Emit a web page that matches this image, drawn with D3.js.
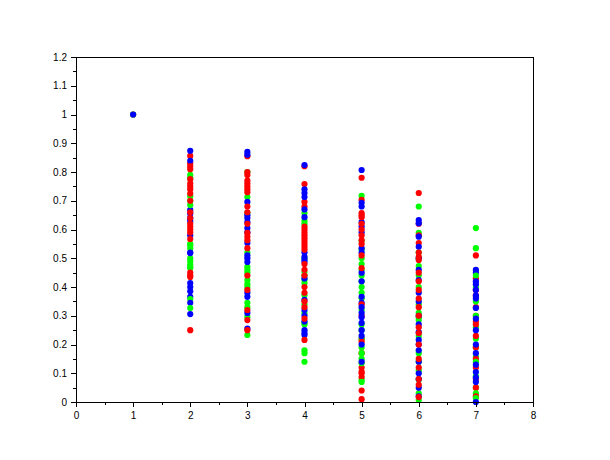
<!DOCTYPE html>
<html><head><meta charset="utf-8">
<script src="https://cdn.jsdelivr.net/npm/d3@7"></script>
<style>body{margin:0;background:#fff}svg{display:block}</style>
</head><body>
<script>
const categories = [1, 2, 3, 4, 5, 6, 7];
const xTicks = [0, 1, 2, 3, 4, 5, 6, 7, 8];
const yTicks = [0, 0.1, 0.2, 0.3, 0.4, 0.5, 0.6, 0.7, 0.8, 0.9, 1, 1.1, 1.2];
const yTickLabels = ["0","0.1","0.2","0.3","0.4","0.5","0.6","0.7","0.8","0.9","1","1.1","1.2"];

const redValues = [
  [1.0],
  [0.856,0.83,0.82,0.81,0.775,0.76,0.75,0.74,0.725,0.70,0.66,0.64,0.62,0.61,0.60,0.59,0.567,0.45,0.44,0.435,0.25],
  [0.855,0.80,0.79,0.77,0.76,0.75,0.74,0.73,0.68,0.66,0.62,0.588,0.575,0.563,0.535,0.44,0.39,0.32,0.285,0.25],
  [0.82,0.758,0.696,0.68,0.61,0.60,0.59,0.58,0.57,0.56,0.55,0.54,0.53,0.48,0.46,0.44,0.40,0.38,0.35,0.33,0.29,0.216],
  [0.78,0.703,0.657,0.65,0.643,0.62,0.60,0.58,0.563,0.55,0.51,0.466,0.34,0.30,0.22,0.21,0.17,0.12,0.105,0.10,0.087,0.04,0.01],
  [0.727,0.62,0.58,0.553,0.52,0.505,0.494,0.45,0.42,0.39,0.36,0.33,0.30,0.26,0.24,0.20,0.15,0.12,0.08,0.06,0.017],
  [0.51,0.43,0.39,0.37,0.33,0.30,0.28,0.27,0.23,0.19,0.15,0.12,0.08,0.05,0.02]
];
const greenValues = [
  [1.0],
  [0.79,0.78,0.716,0.70,0.685,0.55,0.546,0.535,0.50,0.49,0.478,0.47,0.466,0.358,0.327],
  [0.80,0.713,0.657,0.52,0.47,0.46,0.45,0.424,0.41,0.40,0.345,0.33,0.296,0.233],
  [0.657,0.63,0.62,0.50,0.452,0.44,0.425,0.414,0.372,0.34,0.31,0.275,0.27,0.18,0.17,0.14],
  [0.717,0.56,0.53,0.50,0.48,0.46,0.44,0.42,0.40,0.38,0.36,0.32,0.27,0.25,0.22,0.19,0.17,0.15,0.135,0.077,0.07],
  [0.68,0.588,0.52,0.50,0.473,0.44,0.40,0.34,0.31,0.295,0.285,0.23,0.17,0.14,0.11,0.077,0.03,0.007],
  [0.605,0.535,0.44,0.40,0.35,0.30,0.26,0.22,0.19,0.157,0.14,0.09,0.05,0.03,0.014]
];
const blueValues = [
  [1.0],
  [0.874,0.839,0.668,0.655,0.64,0.63,0.58,0.52,0.518,0.414,0.40,0.385,0.366,0.345,0.306],
  [0.87,0.86,0.696,0.65,0.64,0.626,0.605,0.59,0.553,0.51,0.50,0.487,0.38,0.366,0.31,0.255],
  [0.824,0.74,0.727,0.713,0.67,0.643,0.52,0.505,0.495,0.487,0.43,0.355,0.32,0.30,0.28,0.25,0.24,0.233],
  [0.807,0.693,0.68,0.626,0.61,0.59,0.535,0.52,0.45,0.42,0.366,0.345,0.33,0.31,0.295,0.275,0.25,0.23,0.20,0.14],
  [0.633,0.622,0.575,0.54,0.50,0.46,0.424,0.38,0.35,0.30,0.27,0.243,0.216,0.20,0.18,0.14,0.10,0.08,0.05,0.02],
  [0.46,0.45,0.42,0.41,0.39,0.37,0.36,0.327,0.29,0.25,0.20,0.17,0.13,0.104,0.085,0.07,0.0]
];
const seriesColors = ["#ff0000", "#00ff00", "#0000ff"];

const W = 610, H = 460;
const svg = d3.select("body").append("svg").attr("width", W).attr("height", H);
const x = d3.scaleLinear().domain([0, 8]).range([76, 533]);
const y = d3.scaleLinear().domain([0, 1.2]).range([402, 57]);

// frame
svg.append("rect").attr("x", 76).attr("y", 57).attr("width", 457).attr("height", 345)
  .attr("fill", "none").attr("stroke", "#000").attr("stroke-width", 1).attr("shape-rendering", "crispEdges");

// points: interleave series so colours mix as in the original
const series = [redValues, greenValues, blueValues];
const pts = [];
categories.forEach((c, ci) => {
  const n = d3.max(series, s => s[ci].length);
  for (let i = 0; i < n; i++) {
    series.forEach((s, si) => {
      if (i < s[ci].length) pts.push({x: c, v: s[ci][i], si: si});
    });
  }
});
svg.append("g").selectAll("circle").data(pts).join("circle")
  .attr("cx", d => x(d.x)).attr("cy", d => y(d.v)).attr("r", 3.1)
  .attr("fill", d => seriesColors[d.si]);

const font = "'Liberation Sans', Arial, sans-serif";
// x axis
const xAxis = svg.append("g").attr("transform", "translate(0,402)")
  .call(d3.axisBottom(x).tickValues(xTicks).tickFormat(d3.format("d")).tickSize(5).tickPadding(5));
xAxis.select(".domain").attr("shape-rendering", "crispEdges");
xAxis.selectAll("line").attr("shape-rendering", "crispEdges");
xAxis.selectAll("text").attr("font-family", font).attr("font-size", 10).attr("fill", "#000");
const xMinor = svg.append("g").attr("transform", "translate(0,402)")
  .call(d3.axisBottom(x).tickValues(d3.range(0.5, 8, 1)).tickFormat("").tickSize(3));
xMinor.select(".domain").remove();
xMinor.selectAll("line").attr("shape-rendering", "crispEdges");

// y axis
const yAxis = svg.append("g").attr("transform", "translate(76,0)")
  .call(d3.axisLeft(y).tickValues(yTicks).tickFormat((d, i) => yTickLabels[i]).tickSize(5).tickPadding(4));
yAxis.select(".domain").attr("shape-rendering", "crispEdges");
yAxis.selectAll("line").attr("shape-rendering", "crispEdges");
yAxis.selectAll("text").attr("font-family", font).attr("font-size", 10).attr("fill", "#000");
const yMinor = svg.append("g").attr("transform", "translate(76,0)")
  .call(d3.axisLeft(y).tickValues(d3.range(0.05, 1.2, 0.1)).tickFormat("").tickSize(3));
yMinor.select(".domain").remove();
yMinor.selectAll("line").attr("shape-rendering", "crispEdges");
</script>
</body></html>
